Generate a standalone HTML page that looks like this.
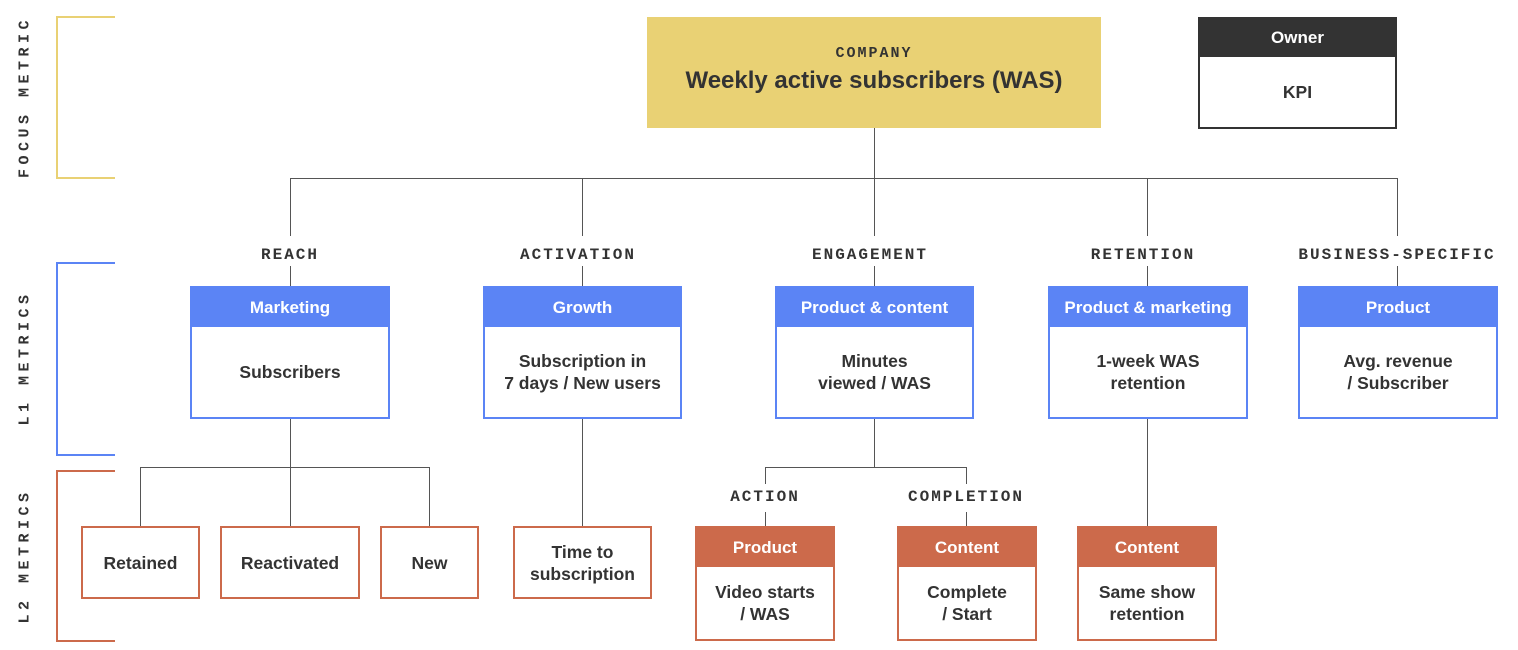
<!DOCTYPE html>
<html><head><style>
body{margin:0;width:1518px;height:650px;background:#fff;position:relative;font-family:"Liberation Sans",sans-serif;color:#333;overflow:hidden}
.a{position:absolute;box-sizing:border-box}
.ln{position:absolute;background:#555}
.box{position:absolute;box-sizing:border-box;background:#fff;display:flex;flex-direction:column}
.hd{color:#fff;font-weight:bold;font-size:17px;display:flex;align-items:center;justify-content:center;flex:none}
.bd{flex:1;display:flex;align-items:center;justify-content:center;text-align:center;font-weight:bold;font-size:17.5px;line-height:22px}
.b{border:2px solid #5b84f5}.b .hd{background:#5b84f5;height:39px}
.o{border:2px solid #cc6a4b}.o .hd{background:#cc6a4b;height:39px}
.lab{position:absolute;font-family:"Liberation Mono",monospace;font-weight:bold;font-size:16px;letter-spacing:2px;transform:translateX(-50%);white-space:nowrap}
.vl{position:absolute;font-family:"Liberation Mono",monospace;font-weight:bold;font-size:15px;letter-spacing:4.5px;transform:translate(-50%,-50%) rotate(-90deg);white-space:nowrap}
</style></head><body>
<div class="a" style="left:56px;top:16px;width:59px;height:163px;border:2px solid #e9d174;border-right:none"></div>
<div class="a" style="left:56px;top:262px;width:59px;height:194px;border:2px solid #5b84f5;border-right:none"></div>
<div class="a" style="left:56px;top:470px;width:59px;height:172px;border:2px solid #cc6a4b;border-right:none"></div>
<div class="vl" style="left:25px;top:97px">FOCUS METRIC</div>
<div class="vl" style="left:25px;top:358px">L1 METRICS</div>
<div class="vl" style="left:25px;top:556px">L2 METRICS</div>

<div class="a" style="left:647px;top:17px;width:454px;height:111px;background:#e9d174;text-align:center">
<div style="font-family:'Liberation Mono',monospace;font-weight:bold;font-size:15px;letter-spacing:2px;margin-top:28px">COMPANY</div>
<div style="font-weight:bold;font-size:24px;margin-top:5px">Weekly active subscribers (WAS)</div></div>
<div class="box" style="left:1198px;top:17px;width:199px;height:112px;border:2px solid #333"><div class="hd" style="background:#333;height:38px">Owner</div><div class="bd">KPI</div></div>

<div class="ln" style="left:874px;top:128px;width:1px;height:50px"></div>
<div class="ln" style="left:290px;top:178px;width:1107px;height:1px"></div>
<div class="ln" style="left:290px;top:178px;width:1px;height:58px"></div>
<div class="ln" style="left:582px;top:178px;width:1px;height:58px"></div>
<div class="ln" style="left:874px;top:178px;width:1px;height:58px"></div>
<div class="ln" style="left:1147px;top:178px;width:1px;height:58px"></div>
<div class="ln" style="left:1397px;top:178px;width:1px;height:58px"></div>
<div class="ln" style="left:290px;top:266px;width:1px;height:20px"></div>
<div class="ln" style="left:582px;top:266px;width:1px;height:20px"></div>
<div class="ln" style="left:874px;top:266px;width:1px;height:20px"></div>
<div class="ln" style="left:1147px;top:266px;width:1px;height:20px"></div>
<div class="ln" style="left:1397px;top:266px;width:1px;height:20px"></div>
<div class="lab" style="left:290px;top:246px">REACH</div>
<div class="lab" style="left:578px;top:246px">ACTIVATION</div>
<div class="lab" style="left:870px;top:246px">ENGAGEMENT</div>
<div class="lab" style="left:1143px;top:246px">RETENTION</div>
<div class="lab" style="left:1397px;top:246px">BUSINESS-SPECIFIC</div>

<div class="box b" style="left:190px;top:286px;width:200px;height:133px"><div class="hd">Marketing</div><div class="bd">Subscribers</div></div>
<div class="box b" style="left:483px;top:286px;width:199px;height:133px"><div class="hd">Growth</div><div class="bd">Subscription in<br>7 days / New users</div></div>
<div class="box b" style="left:775px;top:286px;width:199px;height:133px"><div class="hd">Product &amp; content</div><div class="bd">Minutes<br>viewed / WAS</div></div>
<div class="box b" style="left:1048px;top:286px;width:200px;height:133px"><div class="hd">Product &amp; marketing</div><div class="bd">1-week WAS<br>retention</div></div>
<div class="box b" style="left:1298px;top:286px;width:200px;height:133px"><div class="hd">Product</div><div class="bd">Avg. revenue<br>/ Subscriber</div></div>

<div class="ln" style="left:290px;top:419px;width:1px;height:107px"></div>
<div class="ln" style="left:140px;top:467px;width:290px;height:1px"></div>
<div class="ln" style="left:140px;top:467px;width:1px;height:59px"></div>
<div class="ln" style="left:429px;top:467px;width:1px;height:59px"></div>
<div class="ln" style="left:582px;top:419px;width:1px;height:107px"></div>
<div class="ln" style="left:874px;top:419px;width:1px;height:48px"></div>
<div class="ln" style="left:765px;top:467px;width:202px;height:1px"></div>
<div class="ln" style="left:765px;top:467px;width:1px;height:17px"></div>
<div class="ln" style="left:966px;top:467px;width:1px;height:17px"></div>
<div class="ln" style="left:765px;top:512px;width:1px;height:14px"></div>
<div class="ln" style="left:966px;top:512px;width:1px;height:14px"></div>
<div class="ln" style="left:1147px;top:419px;width:1px;height:107px"></div>
<div class="lab" style="left:765px;top:488px">ACTION</div>
<div class="lab" style="left:966px;top:488px">COMPLETION</div>

<div class="box o" style="left:81px;top:526px;width:119px;height:73px"><div class="bd">Retained</div></div>
<div class="box o" style="left:220px;top:526px;width:140px;height:73px"><div class="bd">Reactivated</div></div>
<div class="box o" style="left:380px;top:526px;width:99px;height:73px"><div class="bd">New</div></div>
<div class="box o" style="left:513px;top:526px;width:139px;height:73px"><div class="bd">Time to<br>subscription</div></div>
<div class="box o" style="left:695px;top:526px;width:140px;height:115px"><div class="hd">Product</div><div class="bd">Video starts<br>/ WAS</div></div>
<div class="box o" style="left:897px;top:526px;width:140px;height:115px"><div class="hd">Content</div><div class="bd">Complete<br>/ Start</div></div>
<div class="box o" style="left:1077px;top:526px;width:140px;height:115px"><div class="hd">Content</div><div class="bd">Same show<br>retention</div></div>
</body></html>
